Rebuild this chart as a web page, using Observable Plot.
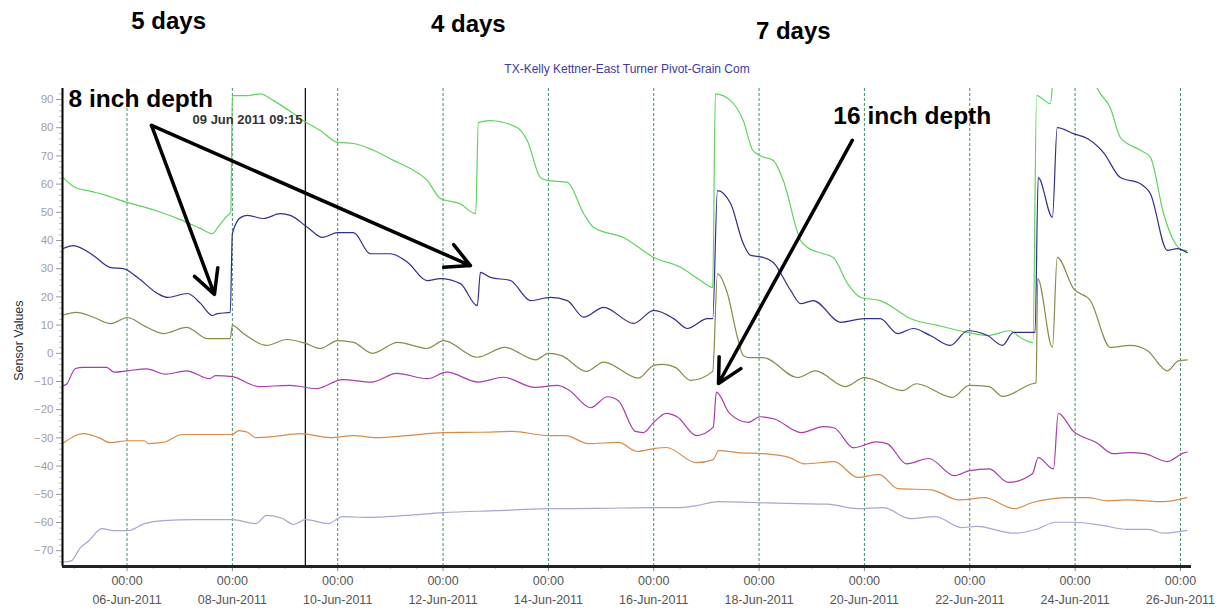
<!DOCTYPE html>
<html>
<head>
<meta charset="utf-8">
<script src="https://cdn.jsdelivr.net/npm/d3@7"></script>
<script src="https://cdn.jsdelivr.net/npm/@observablehq/plot@0.6"></script>
<style>
  body { margin: 0; background: #fff; }
  #chart svg { display: block; }
</style>
</head>
<body>
<div id="chart"></div>
<script>
// ---------- texts ----------
const chartTitle = "TX-Kelly Kettner-East Turner Pivot-Grain Com";
const yLabel = "Sensor Values";
const cursorDay = 9 + 9.25 / 24;           // 09 Jun 2011 09:15
const cursorLabel = "09 Jun 2011 09:15";

// ---------- axis ticks (day of June 2011) ----------
const xTickDays = [6, 8, 10, 12, 14, 16, 18, 20, 22, 24, 26];
const yTickValues = [-70, -60, -50, -40, -30, -20, -10, 0, 10, 20, 30, 40, 50, 60, 70, 80, 90];
const xDomainDays = [4.775, 26.21];
const yDomain = [-75.6, 93.9];

// ---------- series: [day of June 2011, sensor value] ----------
const green = [
  [4.78, 62.5], [5.0, 59], [5.3, 57.5], [5.6, 56], [6.0, 53.5], [6.3, 52], [6.64, 50], [7.0, 47.5],
  [7.4, 44.2], [7.62, 42.4], [7.72, 44.6], [7.91, 48.9], [7.97, 50], [8.0, 91.4], [8.29, 91.4],
  [8.53, 92], [8.78, 89.6], [9.16, 85], [9.35, 82.5], [9.67, 79], [10.0, 74.8], [10.3, 74.4],
  [10.68, 72], [11.06, 68.4], [11.38, 65.5], [11.7, 61.3], [11.95, 54.9], [12.33, 53], [12.62, 49.5],
  [12.67, 81.8], [12.9, 82.5], [13.41, 80], [13.6, 75.4], [13.85, 62.3], [13.98, 61.3], [14.36, 60.6],
  [14.67, 49.5], [14.86, 44.6], [15.43, 41], [16.0, 34], [16.51, 30.5], [16.89, 25.8], [17.12, 23.4],
  [17.17, 92], [17.46, 89.6], [17.7, 82.5], [17.88, 72], [18.03, 70], [18.27, 68.4], [18.46, 61.3],
  [18.79, 40], [18.92, 37.5], [19.22, 35.3], [19.41, 34], [19.68, 24.7], [19.93, 19.8], [20.3, 18.7],
  [20.72, 14], [20.82, 12.8], [21.39, 9.9], [21.96, 7.4], [22.34, 6.3], [22.77, 8], [22.96, 5.6],
  [23.2, 3.8], [23.27, 91.4], [23.53, 88.5], [23.6, 100], [24.0, 104], [24.3, 100], [24.42, 94],
  [24.67, 87], [24.86, 76.5], [25.24, 72], [25.43, 69.5], [25.68, 49.5], [25.87, 40], [26.06, 36.5], [26.12, 36.5]
];
const blue = [
  [4.78, 37.1], [4.98, 38.2], [5.36, 34.7], [5.69, 30.4], [5.93, 30], [6.2, 26.9], [6.58, 21.2],
  [6.77, 19.8], [7.15, 21.2], [7.4, 17.6], [7.62, 13.4], [7.72, 14.1], [7.96, 14.5], [8.0, 42.4],
  [8.16, 48.2], [8.29, 48.9], [8.59, 47.8], [8.91, 49.5], [9.1, 48.9], [9.43, 44.6], [9.71, 41.1],
  [10.0, 42.8], [10.3, 42.8], [10.62, 35.3], [11.0, 35.3], [11.33, 32.2], [11.7, 25.8], [11.95, 26.5],
  [12.33, 24.7], [12.65, 16.9], [12.71, 28.7], [12.9, 26.9], [13.28, 25.8], [13.66, 18.7], [14.04, 19.8],
  [14.36, 18.7], [14.67, 12.8], [15.05, 16.3], [15.62, 10.6], [16.0, 15.2], [16.38, 12.3], [16.64, 8.8],
  [17.02, 12.3], [17.12, 12.3], [17.21, 57.7], [17.46, 53.1], [17.7, 38.9], [17.84, 34.7], [18.08, 34],
  [18.27, 32.2], [18.6, 22.3], [18.79, 17.6], [19.03, 18.7], [19.55, 11], [20.0, 12.3], [20.3, 12.3],
  [20.63, 7], [20.93, 8.8], [21.25, 6.3], [21.63, 2.8], [21.96, 8], [22.34, 6.3], [22.62, 2.8],
  [22.83, 7.4], [23.24, 7.4], [23.3, 62.3], [23.57, 48.2], [23.66, 80], [23.97, 77.9], [24.24, 76.1],
  [24.54, 71.2], [24.86, 62.3], [25.24, 60.1], [25.43, 56.6], [25.75, 36.5], [25.94, 37.1], [26.13, 35.7]
];
const olive = [
  [4.78, 13.5], [5.04, 14.5], [5.36, 12.8], [5.69, 10.5], [6.01, 12.7], [6.31, 9.9], [6.69, 7],
  [7.13, 9.2], [7.53, 5.2], [7.96, 5.2], [8.0, 9.9], [8.21, 7], [8.65, 2.8], [9.03, 4.9], [9.39, 3.5],
  [9.67, 1.7], [10.0, 4.5], [10.3, 3.9], [10.66, 0], [11.14, 3.9], [11.7, 1.7], [12.01, 4.5],
  [12.65, -1.4], [13.17, 2.1], [13.76, -2.3], [14.0, 0], [14.25, -0.8], [14.72, -6.4], [15.05, -3.1],
  [15.71, -8.8], [16.0, -4.3], [16.17, -3.9], [16.41, -5], [16.7, -9.6], [17.12, -6.4], [17.21, 28.2],
  [17.4, 21.2], [17.59, 5.6], [17.7, -0.8], [17.8, -1.5], [18.08, -1.5], [18.73, -8.6], [19.07, -6.2],
  [19.64, -11.8], [20.0, -8.6], [20.72, -13.2], [20.99, -10.8], [21.67, -15.6], [21.99, -11.4],
  [22.37, -11.8], [22.62, -15.3], [23.19, -10.8], [23.26, -10.5], [23.29, 26.5], [23.57, 2.1],
  [23.66, 34], [23.97, 22.9], [24.29, 18.7], [24.67, 2.1], [25.05, 2.8], [25.37, 1.0], [25.75, -6.2],
  [25.96, -2.7], [26.13, -2.3]
];
const magenta = [
  [4.78, -11.6], [4.85, -11], [5.02, -5.4], [5.17, -5], [5.61, -5], [5.76, -6.7], [6.01, -6.2],
  [6.37, -5.5], [6.73, -7.4], [7.13, -6.2], [7.57, -9], [7.68, -7.9], [8.0, -8.3], [8.5, -11.8],
  [9.09, -11.4], [9.6, -12.5], [10.09, -9.3], [10.64, -10.2], [11.12, -7.1], [11.7, -9], [12.07, -6.7],
  [12.67, -10.2], [13.15, -8.5], [13.74, -12.1], [14.17, -11.4], [14.38, -12.9], [14.8, -19.3],
  [15.12, -15.4], [15.33, -16.8], [15.65, -27.7], [15.8, -28.1], [16.0, -24.5], [16.24, -21.3],
  [16.45, -22.6], [16.81, -29.2], [17.13, -26.2], [17.19, -13.8], [17.44, -21.3], [17.8, -24.5],
  [18.01, -22.5], [18.29, -23.3], [18.8, -28.1], [19.22, -26], [19.43, -26.5], [19.79, -33.5],
  [20.23, -31.4], [20.44, -32.1], [20.8, -39.2], [21.22, -37.3], [21.71, -43.4], [22.0, -41.6],
  [22.37, -41], [22.73, -45.8], [23.19, -42.7], [23.3, -37], [23.59, -41], [23.68, -21.3],
  [23.97, -27.7], [24.41, -31.7], [24.72, -35.6], [25.03, -35.2], [25.32, -35.6], [25.75, -38.4],
  [26.04, -35.5], [26.13, -35]
];
const orange = [
  [4.78, -32], [5.17, -28.5], [5.46, -29.9], [5.69, -31.7], [6.01, -31], [6.33, -31], [6.41, -32],
  [6.69, -31.6], [7.05, -28.8], [7.49, -28.8], [8.0, -28.8], [8.12, -27.4], [8.29, -28], [8.44, -29.9],
  [8.8, -29.5], [9.28, -28.5], [9.86, -29.9], [10.3, -29.2], [10.74, -29.9], [11.31, -29.2],
  [12.01, -28.1], [12.73, -28], [13.32, -27.7], [14.0, -29.2], [14.33, -29.2], [14.76, -32],
  [15.33, -31.6], [15.69, -34.8], [16.0, -33.8], [16.24, -33.4], [16.81, -38.8], [17.13, -37.7],
  [17.23, -34.5], [17.59, -35.2], [18.08, -35.6], [18.58, -37], [18.86, -39.2], [19.43, -38.4],
  [19.87, -44], [20.28, -42.9], [20.63, -48], [21.27, -48.4], [21.79, -52], [22.28, -51.2],
  [22.85, -55.1], [23.19, -52.9], [23.55, -51.6], [23.91, -51.2], [24.25, -51.2], [24.61, -52.3],
  [24.98, -52], [25.68, -52.6], [26.12, -51.2]
];
const lavender = [
  [4.78, -74], [4.94, -73.6], [5.1, -69.3], [5.28, -66.4], [5.52, -62.2], [5.74, -62.9], [6.01, -62.9],
  [6.33, -60.4], [6.69, -59.3], [7.28, -59], [8.0, -59], [8.44, -60.4], [8.65, -57.5], [8.95, -58.6],
  [9.16, -60.7], [9.39, -59], [9.82, -60.4], [10.09, -57.9], [10.55, -58.2], [11.29, -57.5],
  [12.01, -56.5], [13.02, -55.8], [14.0, -55.1], [14.91, -55], [16.0, -54.7], [16.45, -54.7],
  [16.81, -54], [17.23, -52.6], [17.87, -52.9], [18.73, -53.3], [19.3, -53.5], [19.87, -55.1],
  [20.36, -54.7], [20.86, -58.6], [21.35, -57.9], [21.84, -61.8], [22.13, -61.4], [22.85, -63.8],
  [23.27, -62.4], [23.63, -59.9], [23.97, -59.9], [24.54, -61.1], [24.98, -62.4], [25.39, -62.4],
  [25.68, -63.8], [26.12, -62.8]
];
const seriesColors = {
  green: "#5fd35f", blue: "#30308c", olive: "#8a8a4a",
  magenta: "#a83ca8", orange: "#d68c4c", lavender: "#a6a6d2"
};

// ---------- annotations (day of June, value) ----------
const dayLabels = [
  {text: "5 days", day: 6.79, value: 117.6},
  {text: "4 days", day: 12.48, value: 116.6},
  {text: "7 days", day: 18.65, value: 114.1}
];
const depthLabels = [
  {text: "8 inch depth", day: 4.89, value: 90},
  {text: "16 inch depth", day: 19.41, value: 84}
];
const arrows = [
  {d1: 6.465, v1: 80.8, d2: 7.66, v2: 20.9},
  {d1: 6.465, v1: 80.8, d2: 12.52, v2: 31.1},
  {d1: 19.77, v1: 75.5, d2: 17.23, v2: -10.7}
];

// ---------- build ----------
const toDate = d => new Date(Date.UTC(2011, 5, 1) + (d - 1) * 864e5);
const rows = (arr) => arr.map(([d, v]) => ({t: toDate(d), v}));
const seriesData = {green, blue, olive, magenta, orange, lavender};
const xTicks = xTickDays.map(toDate);
const minorX = d3.range(5, 26.5, 0.5).filter(d => !xTickDays.includes(d)).map(toDate);
const minorY = d3.range(-74, 94, 2).filter(v => v % 10 !== 0);
const fmtDate = d3.utcFormat("%d-%b-%Y");
const font = "Arial, 'Liberation Sans', sans-serif";

const lineMarks = Object.entries(seriesData).map(([name, arr]) =>
  Plot.line(rows(arr), {x: "t", y: "v", stroke: seriesColors[name], strokeWidth: 1.2, curve: "monotone-x", clip: true})
);

const chart = Plot.plot({
  width: 1225,
  height: 613,
  marginTop: 88,
  marginBottom: 47,
  marginLeft: 62,
  marginRight: 34,
  style: {fontFamily: font, background: "#fff", overflow: "visible"},
  x: {type: "utc", domain: xDomainDays.map(toDate)},
  y: {domain: yDomain},
  marks: [
    // dashed day gridlines
    Plot.ruleX(xTicks, {stroke: "#3f8f70", strokeWidth: 1, strokeDasharray: "3,2"}),
    // cursor line
    Plot.ruleX([toDate(cursorDay)], {stroke: "#000", strokeWidth: 1.2}),
    ...lineMarks,
    // y axis
    Plot.axisY(yTickValues, {tickSize: 6, tickPadding: 3, fontSize: 11.5, color: "#a0a0a0", stroke: "#999", label: null}),
    Plot.axisY(minorY, {tickSize: 3, text: null, stroke: "#bbb", label: null}),
    // x axis (two label rows)
    Plot.axisX(xTicks, {tickSize: 5, tickPadding: 5, fontSize: 12.5, fill: "#555", stroke: "#888", tickFormat: () => "00:00", label: null}),
    Plot.axisX(xTicks, {tickSize: 0, tickPadding: 29, fontSize: 12.5, fill: "#555", tickFormat: fmtDate, label: null}),
    Plot.axisX(minorX, {tickSize: 3, text: null, stroke: "#bbb", label: null}),
    // axis lines
    Plot.ruleX([toDate(xDomainDays[0])], {stroke: "#000", strokeWidth: 2}),
    Plot.ruleY([yDomain[0]], {stroke: "#222", strokeWidth: 3}),
    // y label
    Plot.text([yLabel], {x: toDate(3.94), y: 4.5, rotate: -90, fontSize: 12.5, fill: "#333"}),
    // title
    Plot.text([chartTitle], {frameAnchor: "top", dy: -24, fontSize: 12, fill: "#3a3aa8"}),
    // cursor label
    Plot.text([cursorLabel], {x: toDate(9.33), y: 82.9, textAnchor: "end", fontSize: 13, fontWeight: "bold", fill: "#333"}),
    // annotations
    Plot.arrow(arrows, {x1: d => toDate(d.d1), y1: "v1", x2: d => toDate(d.d2), y2: "v2", stroke: "#000", strokeWidth: 3.5, headLength: 11.5, headAngle: 55}),
    Plot.text(dayLabels, {x: d => toDate(d.day), y: "value", text: "text", fontSize: 24, fontWeight: "bold", fill: "#000"}),
    Plot.text(depthLabels, {x: d => toDate(d.day), y: "value", text: "text", textAnchor: "start", fontSize: 24.5, fontWeight: "bold", fill: "#000"})
  ]
});
document.getElementById("chart").appendChild(chart);
</script>
</body>
</html>
